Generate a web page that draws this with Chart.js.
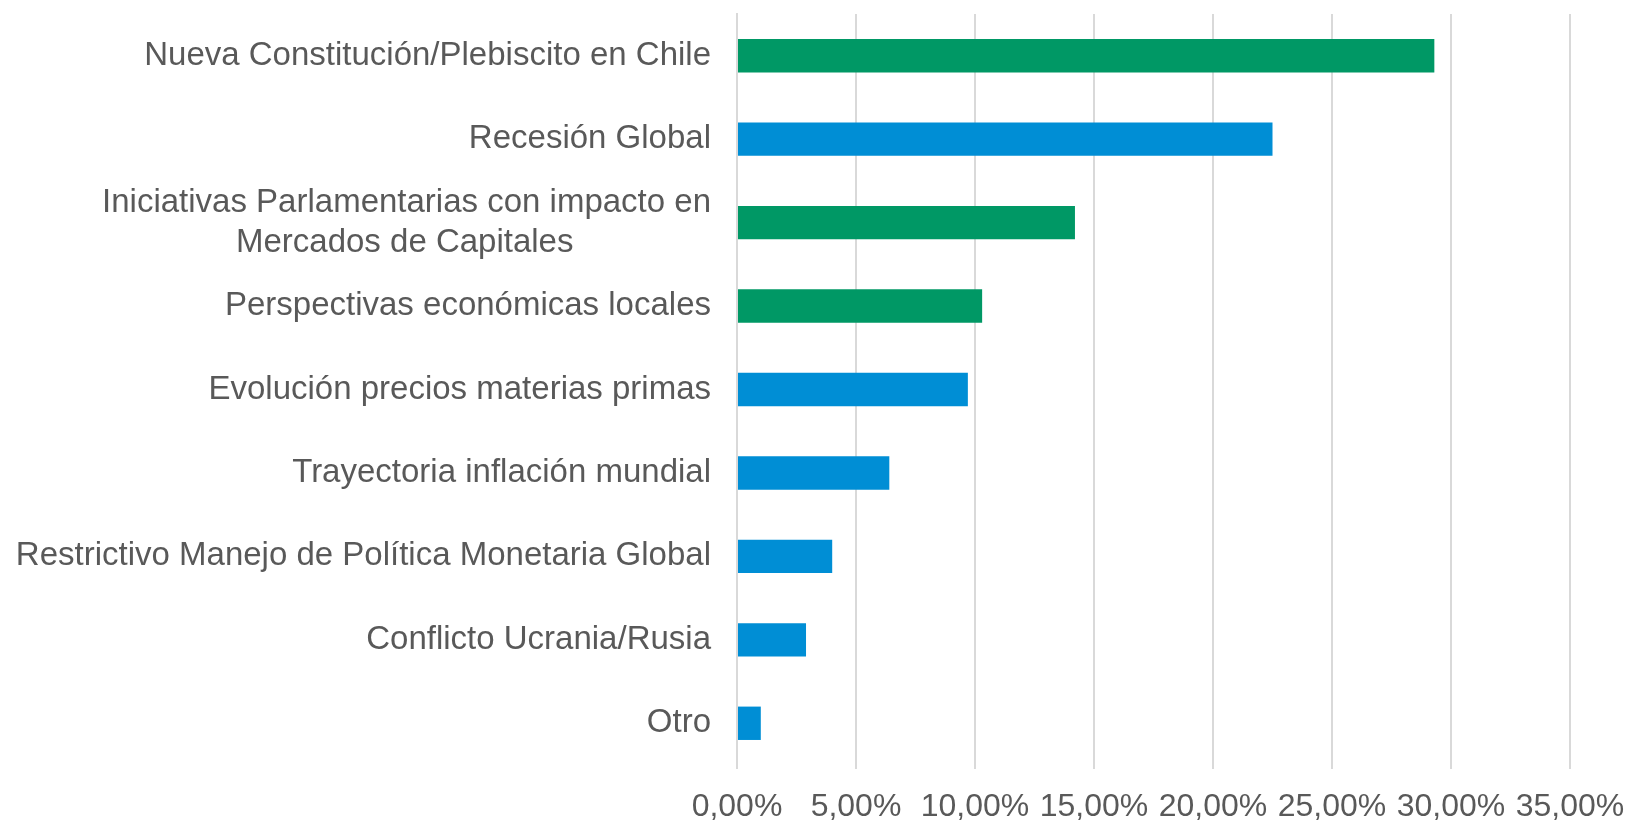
<!DOCTYPE html>
<html>
<head>
<meta charset="utf-8">
<script src="https://cdn.jsdelivr.net/npm/chart.js@4"></script>
<style>
  body { margin: 0; background: #fff; }
  #wrap { width: 1627px; height: 820px; }
</style>
</head>
<body>
<div id="wrap"><canvas id="riskChart"></canvas></div>
<script>
const categories = [
    'Nueva Constitución/Plebiscito en Chile',
    'Recesión Global',
    ['Iniciativas Parlamentarias con impacto en', 'Mercados de Capitales               '],
    'Perspectivas económicas locales',
    'Evolución precios materias primas',
    'Trayectoria inflación mundial',
    'Restrictivo Manejo de Política Monetaria Global',
    'Conflicto Ucrania/Rusia',
    'Otro'
];
const shares = [29.3, 22.5, 14.2, 10.3, 9.7, 6.4, 4.0, 2.9, 1.0];
const isLocal = [true, false, true, true, false, false, false, false, false];
const xTicks = [0, 5, 10, 15, 20, 25, 30, 35];

const green = '#009865';
const blue = '#008ed5';
const textGrey = '#595959';
const gridGrey = '#d9d9d9';

document.addEventListener("DOMContentLoaded", () => {
    const ctx = document.getElementById('riskChart').getContext('2d');
    new Chart(ctx, {
        type: 'bar',
        data: {
            labels: categories,
            datasets: [{
                data: shares,
                backgroundColor: isLocal.map(l => l ? green : blue),
                barPercentage: 0.8,
                categoryPercentage: 0.5
            }]
        },
        options: {
            indexAxis: 'y',
            responsive: true,
            maintainAspectRatio: false,
            animation: false,
            layout: { padding: { top: 14, right: 57, left: 0, bottom: 0 } },
            plugins: {
                legend: { display: false },
                tooltip: { enabled: false }
            },
            scales: {
                x: {
                    min: 0,
                    max: 35,
                    afterBuildTicks: scale => { scale.ticks = xTicks.map(v => ({ value: v })); },
                    ticks: {
                        color: textGrey,
                        font: { family: 'Liberation Sans, Arial', size: 32 },
                        padding: 19,
                        maxRotation: 0,
                        callback: v => v.toFixed(2).replace('.', ',') + '%'
                    },
                    grid: { color: gridGrey, lineWidth: 2, tickLength: 4 },
                    border: { display: false },
                    afterFit: scale => {
                        scale.height = 55;
                        scale.paddingLeft = 0;
                        scale.paddingRight = 0;
                    }
                },
                y: {
                    ticks: {
                        color: textGrey,
                        font: { family: 'Liberation Sans, Arial', size: 33 },
                        padding: 26
                    },
                    grid: { display: false, drawTicks: false },
                    border: { color: gridGrey, width: 2 },
                    afterFit: scale => {
                        scale.width = 737;
                        scale.paddingTop = 0;
                        scale.paddingBottom = 0;
                    }
                }
            }
        }
    });
});
</script>
</body>
</html>
